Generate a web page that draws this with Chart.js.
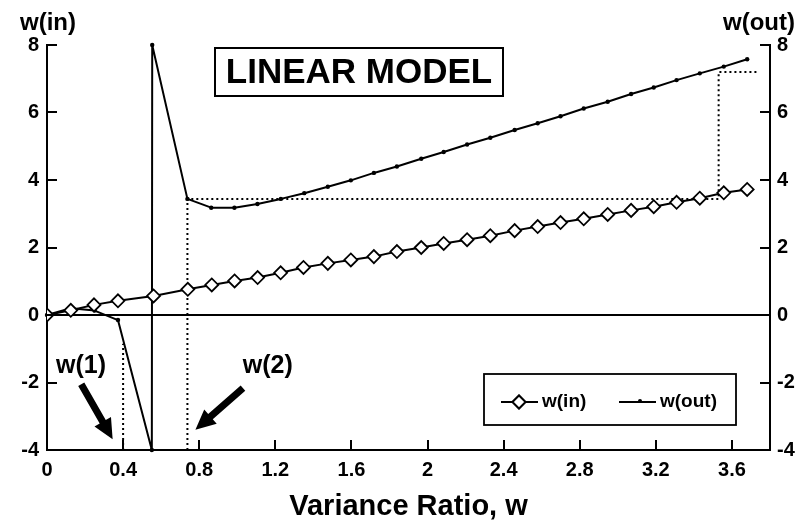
<!DOCTYPE html>
<html><head><meta charset="utf-8">
<script src="https://cdn.jsdelivr.net/npm/chart.js@4.4.1/dist/chart.umd.min.js"></script>
<style>html,body{margin:0;padding:0;background:#fff}#wrap{width:802px;height:525px}</style>
</head><body><div id="wrap"><canvas id="c" width="802" height="525"></canvas></div>
<script>
// ---- data ----
const wIn_x = [0, 0.125, 0.247, 0.373, 0.56, 0.74, 0.866, 0.986, 1.107, 1.228, 1.348, 1.476, 1.597, 1.718, 1.839, 1.967, 2.085, 2.208, 2.33, 2.458, 2.579, 2.699, 2.821, 2.947, 3.07, 3.189, 3.309, 3.431, 3.557, 3.68];
const wIn_y = [0, 0.14, 0.30, 0.42, 0.565, 0.76, 0.89, 1.01, 1.11, 1.25, 1.41, 1.53, 1.63, 1.73, 1.88, 2.0, 2.12, 2.23, 2.35, 2.5, 2.62, 2.74, 2.85, 2.98, 3.1, 3.21, 3.34, 3.46, 3.62, 3.72];
const wOut_x = [0, 0.125, 0.25, 0.373, 0.551, 0.553, 0.738, 0.863, 0.985, 1.106, 1.229, 1.352, 1.476, 1.597, 1.718, 1.839, 1.967, 2.085, 2.208, 2.33, 2.458, 2.579, 2.699, 2.821, 2.947, 3.07, 3.189, 3.309, 3.431, 3.557, 3.68];
const wOut_y = [0, 0.2, 0.13, -0.15, -4, 8, 3.44, 3.18, 3.18, 3.29, 3.44, 3.61, 3.8, 3.99, 4.21, 4.40, 4.63, 4.83, 5.05, 5.25, 5.48, 5.68, 5.89, 6.12, 6.32, 6.55, 6.74, 6.96, 7.16, 7.36, 7.58];
const zero_x = [0, 3.8];
const zero_y = [0, 0];
const w1Guide_x = [0.4, 0.4];
const w1Guide_y = [-4, -0.85];
const w2Guide_x = [0.738, 0.738, 3.53, 3.53, 3.74];
const w2Guide_y = [-4, 3.44, 3.44, 7.2, 7.2];
const xTicks = [0, 0.4, 0.8, 1.2, 1.6, 2.0, 2.4, 2.8, 3.2, 3.6];
const xTickLabels = ['0', '0.4', '0.8', '1.2', '1.6', '2', '2.4', '2.8', '3.2', '3.6'];
const yTicks = [-4, -2, 0, 2, 4, 6, 8];
const yTickLabels = ['-4', '-2', '0', '2', '4', '6', '8'];
// annotation anchors (data units)
const w1Label = {x: 0.179, y: -1.52, text: 'w(1)'};
const w1Arrow = {x1: 0.18, y1: -2.05, x2: 0.345, y2: -3.68};
const w2Label = {x: 1.16, y: -1.52, text: 'w(2)'};
const w2Arrow = {x1: 1.03, y1: -2.17, x2: 0.78, y2: -3.4};

const FONT = '"Liberation Sans", Arial, Helvetica, sans-serif';
const pts = (xs, ys) => xs.map((x, i) => ({x: x, y: ys[i]}));

function arrow(ctx, x1, y1, x2, y2, shaftW, headLen, headW) {
  const a = Math.atan2(y2 - y1, x2 - x1);
  const len = Math.hypot(x2 - x1, y2 - y1);
  ctx.save();
  ctx.translate(x1, y1);
  ctx.rotate(a);
  ctx.beginPath();
  ctx.moveTo(0, -shaftW / 2);
  ctx.lineTo(len - headLen, -shaftW / 2);
  ctx.lineTo(len - headLen, -headW / 2);
  ctx.lineTo(len, 0);
  ctx.lineTo(len - headLen, headW / 2);
  ctx.lineTo(len - headLen, shaftW / 2);
  ctx.lineTo(0, shaftW / 2);
  ctx.closePath();
  ctx.fillStyle = '#000';
  ctx.fill();
  ctx.restore();
}

const decor = {
  id: 'decor',
  afterDraw(chart) {
    const ctx = chart.ctx;
    const xs = chart.scales.x, ys = chart.scales.y, ys2 = chart.scales.y2;
    const a = chart.chartArea;
    ctx.save();
    ctx.strokeStyle = '#000';
    ctx.lineWidth = 2;
    // inward tick marks
    yTicks.forEach(v => {
      const p = Math.round(ys.getPixelForValue(v));
      ctx.beginPath(); ctx.moveTo(a.left, p); ctx.lineTo(a.left + 10, p); ctx.stroke();
      const q = Math.round(ys2.getPixelForValue(v));
      ctx.beginPath(); ctx.moveTo(a.right, q); ctx.lineTo(a.right - 10, q); ctx.stroke();
    });
    xTicks.forEach(v => {
      const p = Math.round(xs.getPixelForValue(v));
      ctx.beginPath(); ctx.moveTo(p, a.bottom); ctx.lineTo(p, a.bottom - 10); ctx.stroke();
    });
    // axis titles
    ctx.fillStyle = '#000';
    ctx.textAlign = 'center';
    ctx.textBaseline = 'middle';
    ctx.font = 'bold 24px ' + FONT;
    ctx.fillText('w(in)', 48, 23);
    ctx.fillText('w(out)', 759, 23);
    // title box
    ctx.lineWidth = 2;
    ctx.strokeRect(215, 48, 288, 48);
    ctx.font = 'bold 35px ' + FONT;
    ctx.fillText('LINEAR MODEL', 359, 73);
    // w(1), w(2) annotations
    ctx.font = 'bold 25px ' + FONT;
    ctx.fillText(w1Label.text, xs.getPixelForValue(w1Label.x), ys.getPixelForValue(w1Label.y));
    ctx.fillText(w2Label.text, xs.getPixelForValue(w2Label.x), ys.getPixelForValue(w2Label.y));
    arrow(ctx, xs.getPixelForValue(w1Arrow.x1), ys.getPixelForValue(w1Arrow.y1), xs.getPixelForValue(w1Arrow.x2), ys.getPixelForValue(w1Arrow.y2), 7, 20, 19);
    arrow(ctx, xs.getPixelForValue(w2Arrow.x1), ys.getPixelForValue(w2Arrow.y1), xs.getPixelForValue(w2Arrow.x2), ys.getPixelForValue(w2Arrow.y2), 7, 20, 19);
    // legend
    ctx.lineWidth = 1.8;
    ctx.strokeRect(484, 374, 252, 51);
    const ly = 402;
    const dsIn = chart.data.datasets[0], dsOut = chart.data.datasets[1];
    ctx.lineWidth = dsIn.borderWidth;
    ctx.beginPath(); ctx.moveTo(501, ly); ctx.lineTo(538, ly); ctx.stroke();
    Chart.helpers.drawPoint(ctx, {pointStyle: dsIn.pointStyle, radius: dsIn.pointRadius, borderWidth: dsIn.pointBorderWidth}, 519, ly);
    ctx.fillStyle = '#fff'; ctx.fill();
    ctx.lineWidth = dsIn.pointBorderWidth; ctx.strokeStyle = '#000'; ctx.stroke();
    ctx.lineWidth = dsOut.borderWidth;
    ctx.beginPath(); ctx.moveTo(619, ly); ctx.lineTo(656, ly); ctx.stroke();
    ctx.fillStyle = '#000';
    ctx.beginPath(); ctx.arc(640, ly - 1, 2, 0, Math.PI * 2); ctx.fill();
    ctx.font = 'bold 19px ' + FONT;
    ctx.textAlign = 'left';
    ctx.fillText(dsIn.label, 542, ly);
    ctx.fillText(dsOut.label, 660, ly);
    ctx.restore();
  }
};

const tickFont = {family: FONT, size: 20, weight: 'bold'};
new Chart(document.getElementById('c').getContext('2d'), {
  type: 'scatter',
  data: {datasets: [
    {label: 'w(in)', data: pts(wIn_x, wIn_y), showLine: true, borderColor: '#000', borderWidth: 2,
     pointStyle: 'rectRot', pointRadius: 6.5, pointBackgroundColor: '#fff', pointBorderColor: '#000', pointBorderWidth: 1.8, order: 0},
    {label: 'w(out)', data: pts(wOut_x, wOut_y), showLine: true, borderColor: '#000', borderWidth: 2, borderJoinStyle: 'round',
     pointStyle: 'circle', pointRadius: 2.2, pointBackgroundColor: '#000', pointBorderColor: '#000', pointBorderWidth: 0, clip: false, order: 1},
    {label: 'zero', data: pts(zero_x, zero_y), showLine: true, borderColor: '#000', borderWidth: 2, pointRadius: 0, order: 2},
    {label: 'guide1', data: pts(w1Guide_x, w1Guide_y), showLine: true, borderColor: '#000', borderWidth: 2, borderDash: [2, 3], pointRadius: 0, order: 3},
    {label: 'guide2', data: pts(w2Guide_x, w2Guide_y), showLine: true, borderColor: '#000', borderWidth: 2, borderDash: [2, 3], pointRadius: 0, order: 3}
  ]},
  options: {
    responsive: false, animation: false, devicePixelRatio: 1,
    layout: {padding: {top: 45, left: 0, right: 0, bottom: 0}},
    plugins: {legend: {display: false}, tooltip: {enabled: false}},
    scales: {
      x: {type: 'linear', min: 0, max: 3.8,
          afterBuildTicks: s => { s.ticks = xTicks.map(v => ({value: v})); },
          afterFit: s => { s.height = 75; },
          ticks: {callback: (v, i) => xTickLabels[i], font: tickFont, color: '#000', padding: 8, maxRotation: 0, autoSkip: false},
          grid: {display: false, drawTicks: false},
          border: {display: true, color: '#000', width: 2},
          title: {display: true, text: 'Variance Ratio, w', color: '#000', font: {family: FONT, size: 29, weight: 'bold'}, padding: {top: 4, bottom: 1}}},
      y: {type: 'linear', position: 'left', min: -4, max: 8,
          afterBuildTicks: s => { s.ticks = yTicks.map(v => ({value: v})); },
          afterFit: s => { s.width = 47; },
          ticks: {callback: (v, i) => yTickLabels[i], font: tickFont, color: '#000', padding: 8},
          grid: {display: false, drawTicks: false},
          border: {display: true, color: '#000', width: 2}},
      y2: {type: 'linear', position: 'right', min: -4, max: 8,
          afterBuildTicks: s => { s.ticks = yTicks.map(v => ({value: v})); },
          afterFit: s => { s.width = 32; },
          ticks: {callback: (v, i) => yTickLabels[i], font: tickFont, color: '#000', padding: 7},
          grid: {display: false, drawTicks: false},
          border: {display: true, color: '#000', width: 2}}
    }
  },
  plugins: [decor]
});
</script></body></html>
